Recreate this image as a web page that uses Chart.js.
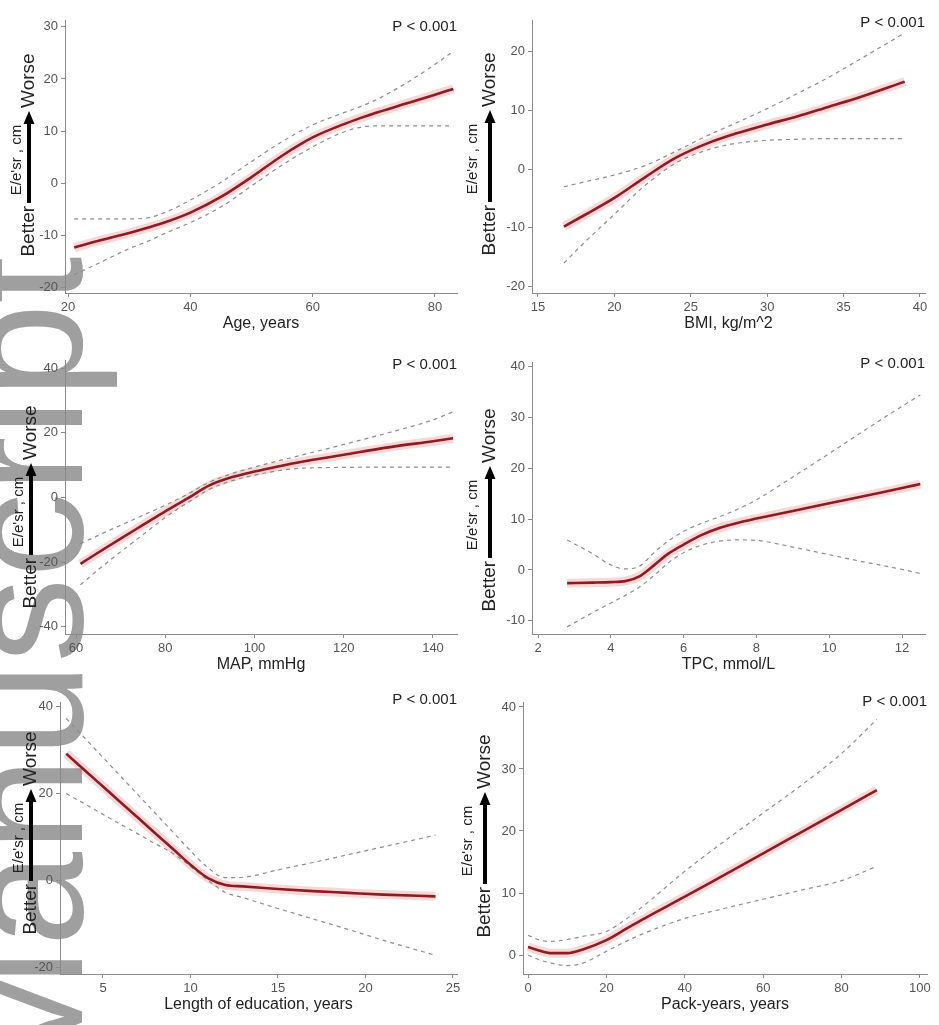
<!DOCTYPE html>
<html lang="en">
<head>
<meta charset="UTF-8">
<title>Spline curves of E/e'sr</title>
<script src="https://cdn.jsdelivr.net/npm/chart.js@4.4.1/dist/chart.umd.min.js"></script>
<style>
    html, body { margin: 0; padding: 0; background: #fff; }
    body { width: 939px; height: 1025px; position: relative; overflow: hidden; }
    #mark { position: absolute; left: 0; top: 0; }
    canvas.panel { position: absolute; }
</style>
</head>
<body>
<svg id="mark" width="939" height="1025"><text transform="translate(82,1088) rotate(-90)" font-family="'Liberation Sans', Arial, sans-serif" font-size="170" fill="#9f9f9f">Manuscript</text></svg>
<canvas class="panel" id="c1"></canvas>
<canvas class="panel" id="c2"></canvas>
<canvas class="panel" id="c3"></canvas>
<canvas class="panel" id="c4"></canvas>
<canvas class="panel" id="c5"></canvas>
<canvas class="panel" id="c6"></canvas>
<script>
// Age
const ageX     = [21, 25, 30, 33, 36, 40, 45, 50, 55, 60, 65, 68, 70, 75, 80, 83];
const ageFit   = [-12.3, -11.0, -9.5, -8.5, -7.4, -5.6, -2.6, 1.2, 5.3, 8.8, 11.3, 12.6, 13.4, 15.2, 17.0, 18.1];
const ageUpper = [-6.8, -6.8, -6.8, -6.6, -5.5, -3.2, 0.2, 4.2, 8.0, 11.2, 13.5, 14.8, 15.8, 19.0, 22.8, 25.3];
const ageLower = [-17.5, -15.3, -12.5, -11.1, -9.5, -7.5, -4.5, -0.5, 3.5, 7.0, 9.8, 10.8, 11.0, 11.0, 11.0, 11.0];
const ageXTicks = [20, 40, 60, 80];
const ageYTicks = [-20, -10, 0, 10, 20, 30];

// BMI
const bmiX     = [16.7, 18, 20, 22, 24, 26, 28, 30, 32, 34, 36, 39];
const bmiFit   = [-9.8, -7.9, -4.9, -1.4, 1.9, 4.3, 6.1, 7.6, 9.0, 10.6, 12.2, 14.9];
const bmiUpper = [-3.0, -2.2, -1.0, 0.6, 3.0, 5.6, 7.9, 10.3, 12.9, 15.6, 18.6, 23.2];
const bmiLower = [-16.0, -12.6, -7.7, -2.8, 1.0, 3.2, 4.4, 4.9, 5.1, 5.2, 5.2, 5.2];
const bmiXTicks = [15, 20, 25, 30, 35, 40];
const bmiYTicks = [-20, -10, 0, 10, 20];

// MAP
const mapX     = [61, 65, 70, 75, 80, 85, 90, 95, 100, 105, 110, 120, 130, 140, 144.5];
const mapFit   = [-20.5, -17.0, -12.7, -8.5, -4.3, -0.3, 3.8, 6.3, 8.0, 9.5, 10.9, 13.2, 15.5, 17.4, 18.3];
const mapUpper = [-14.3, -11.7, -8.6, -5.5, -2.4, 1.0, 4.8, 7.4, 9.4, 11.2, 12.9, 16.4, 20.0, 24.0, 26.5];
const mapLower = [-27.0, -22.3, -16.8, -11.5, -6.2, -1.6, 2.6, 5.2, 6.9, 8.2, 9.0, 9.3, 9.4, 9.4, 9.4];
const mapXTicks = [60, 80, 100, 120, 140];
const mapYTicks = [-40, -20, 0, 20, 40];

// TPC
const tpcX     = [2.8, 3.5, 4.0, 4.4, 4.8, 5.2, 5.6, 6.0, 6.5, 7.0, 7.5, 8.0, 9.0, 10.0, 11.0, 12.0, 12.5];
const tpcFit   = [-2.6, -2.5, -2.4, -2.2, -1.2, 1.0, 3.3, 5.0, 6.9, 8.3, 9.3, 10.1, 11.6, 13.1, 14.6, 16.1, 16.9];
const tpcUpper = [5.9, 3.2, 1.0, 0.2, 0.8, 3.5, 5.8, 7.6, 9.2, 10.5, 12.0, 13.8, 18.3, 22.9, 27.6, 32.2, 34.4];
const tpcLower = [-11.2, -8.4, -6.5, -5.0, -3.3, -1.0, 1.5, 3.4, 4.9, 5.7, 5.9, 5.8, 4.5, 3.0, 1.5, 0.1, -0.7];
const tpcXTicks = [2, 4, 6, 8, 10, 12];
const tpcYTicks = [-10, 0, 10, 20, 30, 40];

// Length of education
const eduX     = [2.9, 4, 5, 6, 7, 8, 9, 10, 11, 12, 13, 15, 17, 19, 21, 24];
const eduFit   = [29.2, 25.2, 21.6, 18.0, 14.4, 10.8, 7.2, 3.6, 0.5, -1.1, -1.4, -2.0, -2.5, -2.9, -3.3, -3.7];
const eduUpper = [37.3, 32.6, 28.3, 24.0, 19.7, 15.4, 11.1, 6.8, 2.9, 0.6, 0.7, 2.4, 4.1, 5.9, 7.7, 10.4];
const eduLower = [20.0, 17.5, 15.2, 12.9, 10.7, 8.4, 6.2, 3.2, 0.0, -2.8, -4.0, -6.5, -8.9, -11.3, -13.8, -17.3];
const eduXTicks = [5, 10, 15, 20, 25];
const eduYTicks = [-20, 0, 20, 40];

// Pack-years
const packX     = [0, 3, 6, 10, 14, 20, 25, 30, 40, 50, 60, 70, 80, 89];
const packFit   = [1.3, 0.7, 0.3, 0.3, 0.9, 2.4, 4.2, 6.0, 9.4, 12.9, 16.4, 19.9, 23.4, 26.6];
const packUpper = [3.2, 2.4, 2.2, 2.5, 3.0, 3.8, 5.8, 8.2, 13.5, 18.3, 22.9, 27.5, 32.5, 38.0];
const packLower = [0.0, -0.8, -1.3, -1.7, -1.3, 0.6, 2.2, 3.6, 5.9, 7.5, 9.0, 10.5, 12.0, 14.3];
const packXTicks = [0, 20, 40, 60, 80, 100];
const packYTicks = [0, 10, 20, 30, 40];

const pText = 'P < 0.001';
const yTitle = "E/e'sr , cm";
const lowWord = 'Better';
const highWord = 'Worse';
const FONT = '"Liberation Sans", Arial, Helvetica, sans-serif';

// layout: plot area in page px, axis limits, y-title columns and centre, P text offset
const panels = [
    { id: 'c1', title: 'Age, years', x: ageX, fit: ageFit, upper: ageUpper, lower: ageLower,
      xTicks: ageXTicks, yTicks: ageYTicks, area: { l: 65, r: 457, t: 20, b: 293 },
      xr: [19.5, 83.6], yr: [-21, 31.3], cols: [17, 29], cy: 155, pDy: 7 },
    { id: 'c2', title: 'BMI, kg/m^2', x: bmiX, fit: bmiFit, upper: bmiUpper, lower: bmiLower,
      xTicks: bmiXTicks, yTicks: bmiYTicks, area: { l: 532, r: 925, t: 20, b: 293 },
      xr: [14.61, 40.33], yr: [-21.1, 25.4], cols: [473, 490], cy: 154, pDy: 3 },
    { id: 'c3', title: 'MAP, mmHg', x: mapX, fit: mapFit, upper: mapUpper, lower: mapLower,
      xTicks: mapXTicks, yTicks: mapYTicks, area: { l: 65, r: 457, t: 360, b: 634 },
      xr: [57.53, 145.38], yr: [-42.2, 42.5], cols: [19, 31], cy: 507, pDy: 5 },
    { id: 'c4', title: 'TPC, mmol/L', x: tpcX, fit: tpcFit, upper: tpcUpper, lower: tpcLower,
      xTicks: tpcXTicks, yTicks: tpcYTicks, area: { l: 532, r: 925, t: 362, b: 634 },
      xr: [1.835, 12.63], yr: [-12.6, 40.9], cols: [473, 490], cy: 510, pDy: 2 },
    { id: 'c5', title: 'Length of education, years', x: eduX, fit: eduFit, upper: eduUpper, lower: eduLower,
      xTicks: eduXTicks, yTicks: eduYTicks, area: { l: 60, r: 457, t: 702, b: 974 },
      xr: [2.543, 25.23], yr: [-21.6, 41.1], cols: [19, 31], cy: 833, pDy: -2 },
    { id: 'c6', title: 'Pack-years, years', x: packX, fit: packFit, upper: packUpper, lower: packLower,
      xTicks: packXTicks, yTicks: packYTicks, area: { l: 523, r: 927, t: 702, b: 974 },
      xr: [-1.28, 101.8], yr: [-3.06, 40.8], cols: [468, 485], cy: 836, pDy: 0 }
];

const pts = (xs, ys) => xs.map((x, i) => ({ x: x, y: ys[i] }));

function textPlugin(p, offX, offY) {
    return {
        id: 'panelText',
        afterDraw(chart) {
            const ctx = chart.ctx;
            const a = chart.chartArea;
            ctx.save();
            ctx.fillStyle = '#222';
            ctx.textBaseline = 'middle';

            // P value, top right
            ctx.font = '15px ' + FONT;
            ctx.textAlign = 'right';
            ctx.fillText(pText, a.right, a.top + p.pDy);

            // x axis title
            ctx.font = '16px ' + FONT;
            ctx.textAlign = 'center';
            ctx.fillText(p.title, (a.left + a.right) / 2, a.bottom + 31);

            const cy = p.cy - offY;

            // outer y title
            ctx.save();
            ctx.translate(p.cols[0] - offX, cy + 5);
            ctx.rotate(-Math.PI / 2);
            ctx.font = '15px ' + FONT;
            ctx.textAlign = 'center';
            ctx.fillText(yTitle, 0, 0);
            ctx.restore();

            // Better ---> Worse
            ctx.save();
            ctx.translate(p.cols[1] - offX, cy);
            ctx.rotate(-Math.PI / 2);
            ctx.font = '19px ' + FONT;
            ctx.textAlign = 'left';
            const wLow = ctx.measureText(lowWord).width;
            const wHigh = ctx.measureText(highWord).width;
            const gap = 3, arrowLen = 92;
            const total = wLow + gap + arrowLen + gap + wHigh;
            let s = -total / 2;
            ctx.fillText(lowWord, s, 0);
            s += wLow + gap;
            ctx.strokeStyle = '#000';
            ctx.fillStyle = '#000';
            ctx.lineWidth = 4;
            ctx.beginPath();
            ctx.moveTo(s, 0);
            ctx.lineTo(s + arrowLen - 10, 0);
            ctx.stroke();
            ctx.beginPath();
            ctx.moveTo(s + arrowLen, 0);
            ctx.lineTo(s + arrowLen - 13, -5.5);
            ctx.lineTo(s + arrowLen - 13, 5.5);
            ctx.closePath();
            ctx.fill();
            s += arrowLen + gap;
            ctx.fillStyle = '#222';
            ctx.fillText(highWord, s, 0);
            ctx.restore();

            ctx.restore();
        }
    };
}

panels.forEach(p => {
    const canvas = document.getElementById(p.id);
    const axisW = 70;
    const left = p.area.l - axisW;
    const top = p.area.t - 20;
    const width = Math.min(939, p.area.r + 12) - left;
    const height = p.area.b + 45 - top;
    canvas.width = width;
    canvas.height = height;
    canvas.style.left = left + 'px';
    canvas.style.top = top + 'px';
    canvas.style.width = width + 'px';
    canvas.style.height = height + 'px';
    const rightPad = width - (p.area.r - left);

    const axisStyle = {
        grid: { drawOnChartArea: false, drawTicks: true, tickLength: 4, color: '#8a8a8a' },
        border: { color: '#8a8a8a', width: 1 },
        ticks: { font: { size: 13, family: FONT }, color: '#555', padding: 3, autoSkip: false, maxRotation: 0 }
    };

    new Chart(canvas, {
        type: 'line',
        data: {
            datasets: [
                { data: pts(p.x, p.fit), borderColor: '#8e1b22', borderWidth: 2.6, order: 0 },
                { data: pts(p.x, p.fit), borderColor: 'rgba(235,110,110,0.28)', borderWidth: 9, order: 3 },
                { data: pts(p.x, p.upper), borderColor: '#8c8c8c', borderWidth: 1.2, borderDash: [4, 4], order: 1 },
                { data: pts(p.x, p.lower), borderColor: '#8c8c8c', borderWidth: 1.2, borderDash: [4, 4], order: 1 }
            ]
        },
        options: {
            responsive: false,
            animation: false,
            devicePixelRatio: 1,
            layout: { padding: { left: 0, top: 20, right: rightPad, bottom: 0 } },
            elements: {
                point: { radius: 0 },
                line: { cubicInterpolationMode: 'monotone', fill: false }
            },
            plugins: { legend: { display: false }, tooltip: { enabled: false } },
            scales: {
                x: Object.assign({
                    type: 'linear', min: p.xr[0], max: p.xr[1],
                    afterBuildTicks: s => { s.ticks = p.xTicks.map(v => ({ value: v })); },
                    afterFit: s => { s.height = 45; }
                }, axisStyle),
                y: Object.assign({
                    type: 'linear', min: p.yr[0], max: p.yr[1],
                    afterBuildTicks: s => { s.ticks = p.yTicks.map(v => ({ value: v })); },
                    afterFit: s => { s.width = axisW; }
                }, axisStyle)
            }
        },
        plugins: [textPlugin(p, left, top)]
    });
});
</script>
</body>
</html>
